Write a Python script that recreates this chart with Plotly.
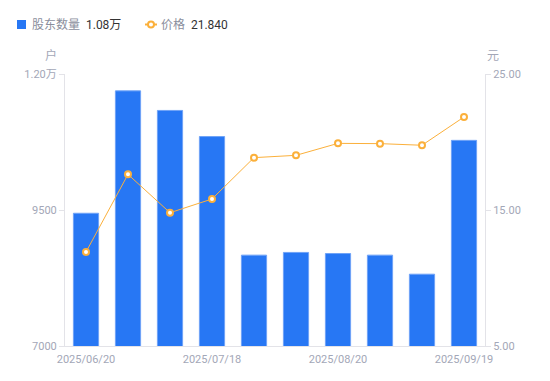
import plotly.graph_objects as go

dates = ["2025/06/20", "2025/06/30", "2025/07/10", "2025/07/18", "2025/07/31",
         "2025/08/08", "2025/08/20", "2025/08/29", "2025/09/10", "2025/09/19"]
holders = [9440, 11690, 11330, 10850, 8670, 8720, 8700, 8670, 8320, 10780]
prices = [11.91, 17.62, 14.80, 15.81, 18.85, 19.02, 19.90, 19.88, 19.76, 21.84]

left_tickvals = [7000, 9500, 12000]
left_ticktext = ["7000", "9500", "1.20万"]
right_tickvals = [5, 15, 25]
right_ticktext = ["5.00", "15.00", "25.00"]
x_tickvals = [dates[0], dates[3], dates[6], dates[9]]

BLUE = "#2777F4"
ORANGE = "#FBB03B"
AXIS = "#e3e3e8"
TICK = "#a3a7b7"
FONT = "Roboto, 'Noto Sans CJK SC', sans-serif"

fig = go.Figure()
fig.add_trace(go.Bar(
    x=dates, y=holders, name="股东数量", marker=dict(color=BLUE, line=dict(color="#6fa3f7", width=1)),
    yaxis="y", showlegend=False,
))
fig.add_trace(go.Scatter(
    x=dates, y=prices, name="价格", mode="lines+markers", yaxis="y2",
    line=dict(color=ORANGE, width=1),
    marker=dict(size=6, color="white", line=dict(color=ORANGE, width=2)),
    showlegend=False,
))

fig.update_layout(
    width=550, height=381,
    margin=dict(l=65, r=65, t=74, b=35),
    plot_bgcolor="white", paper_bgcolor="white",
    font=dict(family=FONT, size=11, color=TICK),
    bargap=0.4,
    xaxis=dict(
        type="category", tickvals=x_tickvals, ticktext=x_tickvals,
        range=[-0.5, len(dates) - 0.5],
        showline=True, linecolor=AXIS, linewidth=1, showgrid=False,
        ticks="", tickfont=dict(size=11, color=TICK), zeroline=False,
        ticklabelstandoff=3,
    ),
    yaxis=dict(
        range=[7000, 12000], tickvals=left_tickvals, ticktext=left_ticktext,
        showline=True, linecolor=AXIS, linewidth=1, showgrid=False, zeroline=False,
        ticks="outside", ticklen=5, tickcolor=AXIS, tickfont=dict(size=11, color=TICK),
    ),
    yaxis2=dict(
        range=[5, 25], tickvals=right_tickvals, ticktext=right_ticktext,
        overlaying="y", side="right",
        showline=True, linecolor=AXIS, linewidth=1, showgrid=False, zeroline=False,
        ticks="outside", ticklen=5, tickcolor=AXIS, tickfont=dict(size=11, color=TICK),
    ),
)

# axis unit titles
fig.add_annotation(text="户", xref="paper", yref="paper", x=-0.015, y=1.0, yshift=9,
                   xanchor="right", yanchor="bottom", showarrow=False,
                   font=dict(size=12, color=TICK))
fig.add_annotation(text="元", xref="paper", yref="paper", x=1.0, y=1.0, xshift=0, yshift=9,
                   xanchor="left", yanchor="bottom", showarrow=False,
                   font=dict(size=12, color=TICK))

# custom legend
last_h = holders[-1] / 10000
last_p = prices[-1]
fig.add_shape(type="rect", xref="paper", yref="paper",
              x0=(17 - 65) / 420, x1=(26 - 65) / 420, y0=(381 - 35 - 29) / 272, y1=(381 - 35 - 20) / 272,
              fillcolor=BLUE, line=dict(width=0))
fig.add_annotation(text=f"股东数量  <span style='color:#333'>{last_h:.2f}万</span>",
                   xref="paper", yref="paper", x=(30 - 65) / 420, y=(381 - 35 - 24.5) / 272,
                   xanchor="left", yanchor="middle", showarrow=False,
                   font=dict(size=12, color="#8a8e9c"))
fig.add_shape(type="line", xref="paper", yref="paper",
              x0=(145 - 65) / 420, x1=(157 - 65) / 420, y0=(381 - 35 - 24.5) / 272, y1=(381 - 35 - 24.5) / 272,
              line=dict(color=ORANGE, width=2))
fig.add_shape(type="circle", xref="paper", yref="paper",
              x0=(148 - 65) / 420, x1=(154 - 65) / 420, y0=(381 - 35 - 27.5) / 272, y1=(381 - 35 - 21.5) / 272,
              fillcolor="white", line=dict(color=ORANGE, width=2))
fig.add_annotation(text=f"价格  <span style='color:#333'>{last_p:.3f}</span>",
                   xref="paper", yref="paper", x=(159 - 65) / 420, y=(381 - 35 - 24.5) / 272,
                   xanchor="left", yanchor="middle", showarrow=False,
                   font=dict(size=12, color="#8a8e9c"))

fig.write_html("out.html", config={"displayModeBar": False},
               post_script="document.body.style.margin='0';document.body.style.overflow='hidden';")
